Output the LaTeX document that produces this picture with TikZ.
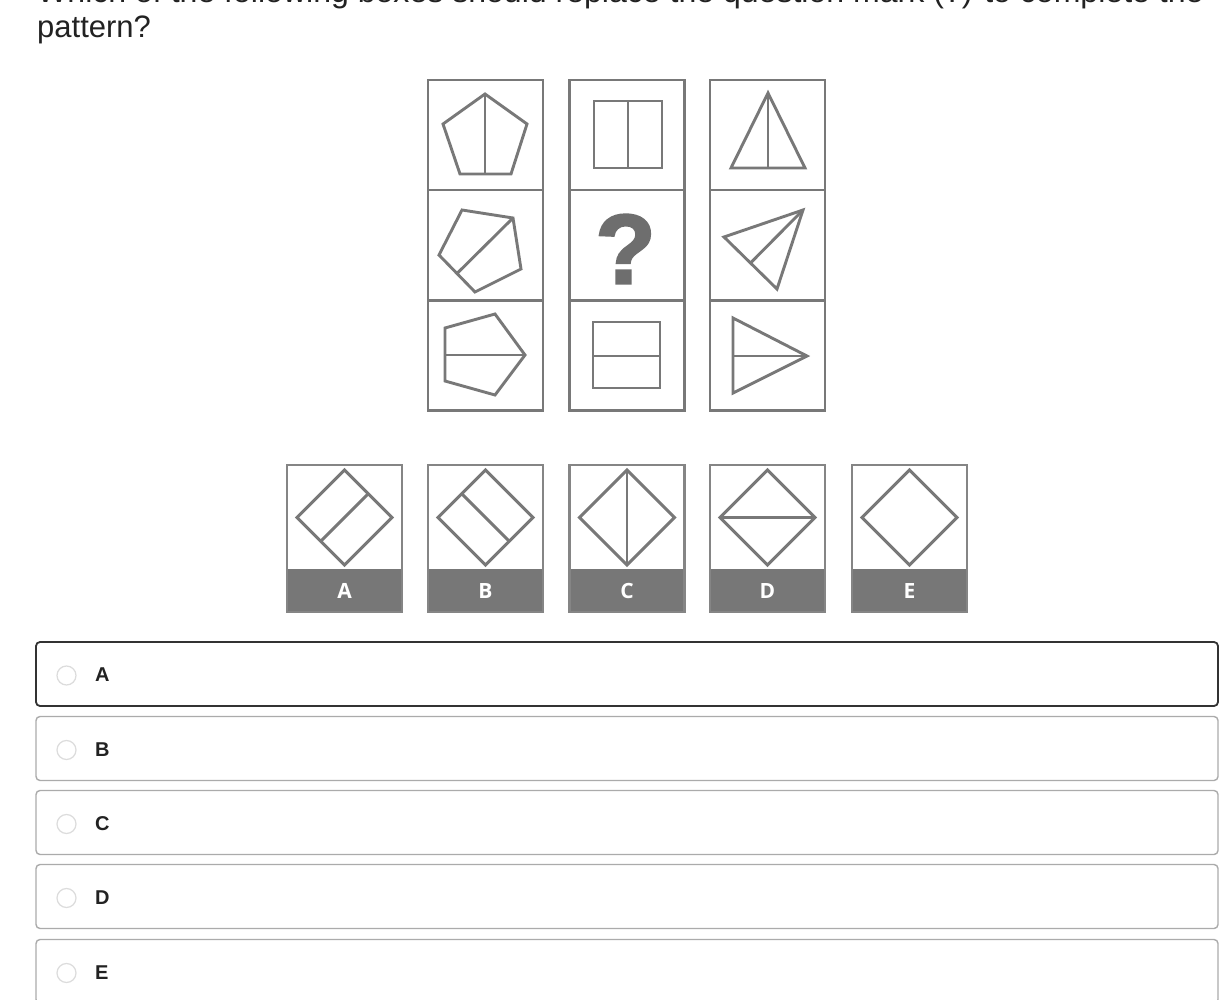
\documentclass[tikz,border=0pt]{standalone}
\usepackage{fontspec}
\usetikzlibrary{calc}
\setmainfont{Liberation Sans}
\newfontfamily\labfont{Open Sans}
\newfontfamily\qfont{Liberation Sans}[BoldFeatures={FakeBold=2.2}]
\definecolor{shp}{HTML}{787878}
\definecolor{qmark}{HTML}{6E6E6E}
\definecolor{band}{HTML}{777777}
\definecolor{txt}{HTML}{222222}
\definecolor{darkbox}{HTML}{333333}
\definecolor{lightbox}{HTML}{ABABAB}
\definecolor{radio}{HTML}{DCDCDC}
\tikzset{
  shape line/.style={draw=shp, line width=2.9pt, line join=miter},
  cell/.style={draw=shp, line width=2.9pt, minimum width=115pt, minimum height=110pt, inner sep=0pt},
  ansbox/.style={draw=shp!90, line width=2.4pt, minimum width=115pt, minimum height=147pt, inner sep=0pt},
  anslabel/.style={text=white, font=\labfont\bfseries\fontsize{21}{21}\selectfont, inner sep=0pt},
  optbox/.style={draw=lightbox, line width=1.4pt, rounded corners=4pt, minimum width=1182pt, minimum height=64pt, inner sep=0pt},
  optsel/.style={optbox, draw=darkbox, line width=1.8pt},
  optletter/.style={text=txt, font=\bfseries\fontsize{20}{20}\selectfont, inner sep=0pt, anchor=west},
  radiobtn/.style={circle, draw=radio, line width=1.2pt, minimum size=19pt, inner sep=0pt},
  qtext/.style={text=txt, font=\fontsize{31}{34}\selectfont, inner sep=0pt, anchor=base west}
}
\begin{document}
\begin{tikzpicture}[x=1pt,y=-1pt]
\useasboundingbox (0,0) rectangle (1232,1000);
\clip (0,0) rectangle (1232,1000);
\fill[white] (0,0) rectangle (1232,1000);

% question text (first line cut off by the top edge, as in the reference)
\node[qtext, xscale=1.034, transform shape] (q1) at (37,3) {Which of the following boxes should replace the question mark (?) to complete the};
\node[qtext] (q2) at (37,37.3) {pattern?};

% grid cells
\foreach \c/\x in {1/485.5, 2/627, 3/767.5}{
  \foreach \r/\y in {1/135, 2/245, 3/355.5}{
    \node[cell] (g\c\r) at (\x,\y) {};
  }
}

% column 1: pentagons
\draw[shape line] (485,94) -- (527,124) -- (511,174) -- (460,174) -- (443,124) -- cycle;
\draw[shape line] (485,94) -- (485,174);
\draw[shape line] (462,210) -- (513,218) -- (521,269) -- (475,292) -- (439,255) -- cycle;
\draw[shape line] (513,218) -- (457,273.5);
\draw[shape line] (445,328) -- (495,314) -- (525,355) -- (495,395) -- (445,381) -- cycle;
\draw[shape line] (445,355) -- (525,355);

% column 2: rectangles and question mark
\draw[shape line] (594,101) rectangle (662,168);
\draw[shape line] (628,101) -- (628,168);
\node[text=qmark, font=\qfont\bfseries\fontsize{99}{99}\selectfont, inner sep=0pt] (qm) at (625.5,249) {?};
\draw[shape line] (593,322) rectangle (660,388);
\draw[shape line] (593,356) -- (660,356);

% column 3: triangles
\draw[shape line] (768,93) -- (805,168) -- (731,168) -- cycle;
\draw[shape line] (768,93) -- (768,168);
\draw[shape line] (803,210) -- (777,289) -- (724,237) -- cycle;
\draw[shape line] (803,210) -- (750.5,263);
\draw[shape line] (733,318) -- (807,356) -- (733,393) -- cycle;
\draw[shape line] (733,356) -- (807,356);

% answer boxes
\foreach \n/\l/\x in {a/A/344.5, b/B/485.5, c/C/627, d/D/767.5, e/E/909.5}{
  \fill[band] (\x-57.5,569) rectangle (\x+57.5,612);
  \node[ansbox] (box\n) at (\x,538.5) {};
  \node[anslabel] (lab\n) at (\x,591) {\l};
  \coordinate (t\n) at (\x,470);
  \coordinate (r\n) at (\x+47.5,517.5);
  \coordinate (b\n) at (\x,565);
  \coordinate (l\n) at (\x-47.5,517.5);
  \draw[shape line] (t\n) -- (r\n) -- (b\n) -- (l\n) -- cycle;
}
\draw[shape line] ($(ta)!0.5!(ra)$) -- ($(la)!0.5!(ba)$);
\draw[shape line] ($(tb)!0.5!(lb)$) -- ($(rb)!0.5!(bb)$);
\draw[shape line] (tc) -- (bc);
\draw[shape line] (ld) -- (rd);

% options
\foreach \n/\l/\y/\s in {1/A/674/optsel, 2/B/748.5/optbox, 3/C/822.5/optbox, 4/D/896.5/optbox, 5/E/971.5/optbox}{
  \node[\s] (opt\n) at (627,\y) {};
  \node[radiobtn] (rad\n) at (66.5,\y+1.5) {};
  \node[optletter] (let\n) at (95,\y+1) {\l};
}
\end{tikzpicture}
\end{document}
